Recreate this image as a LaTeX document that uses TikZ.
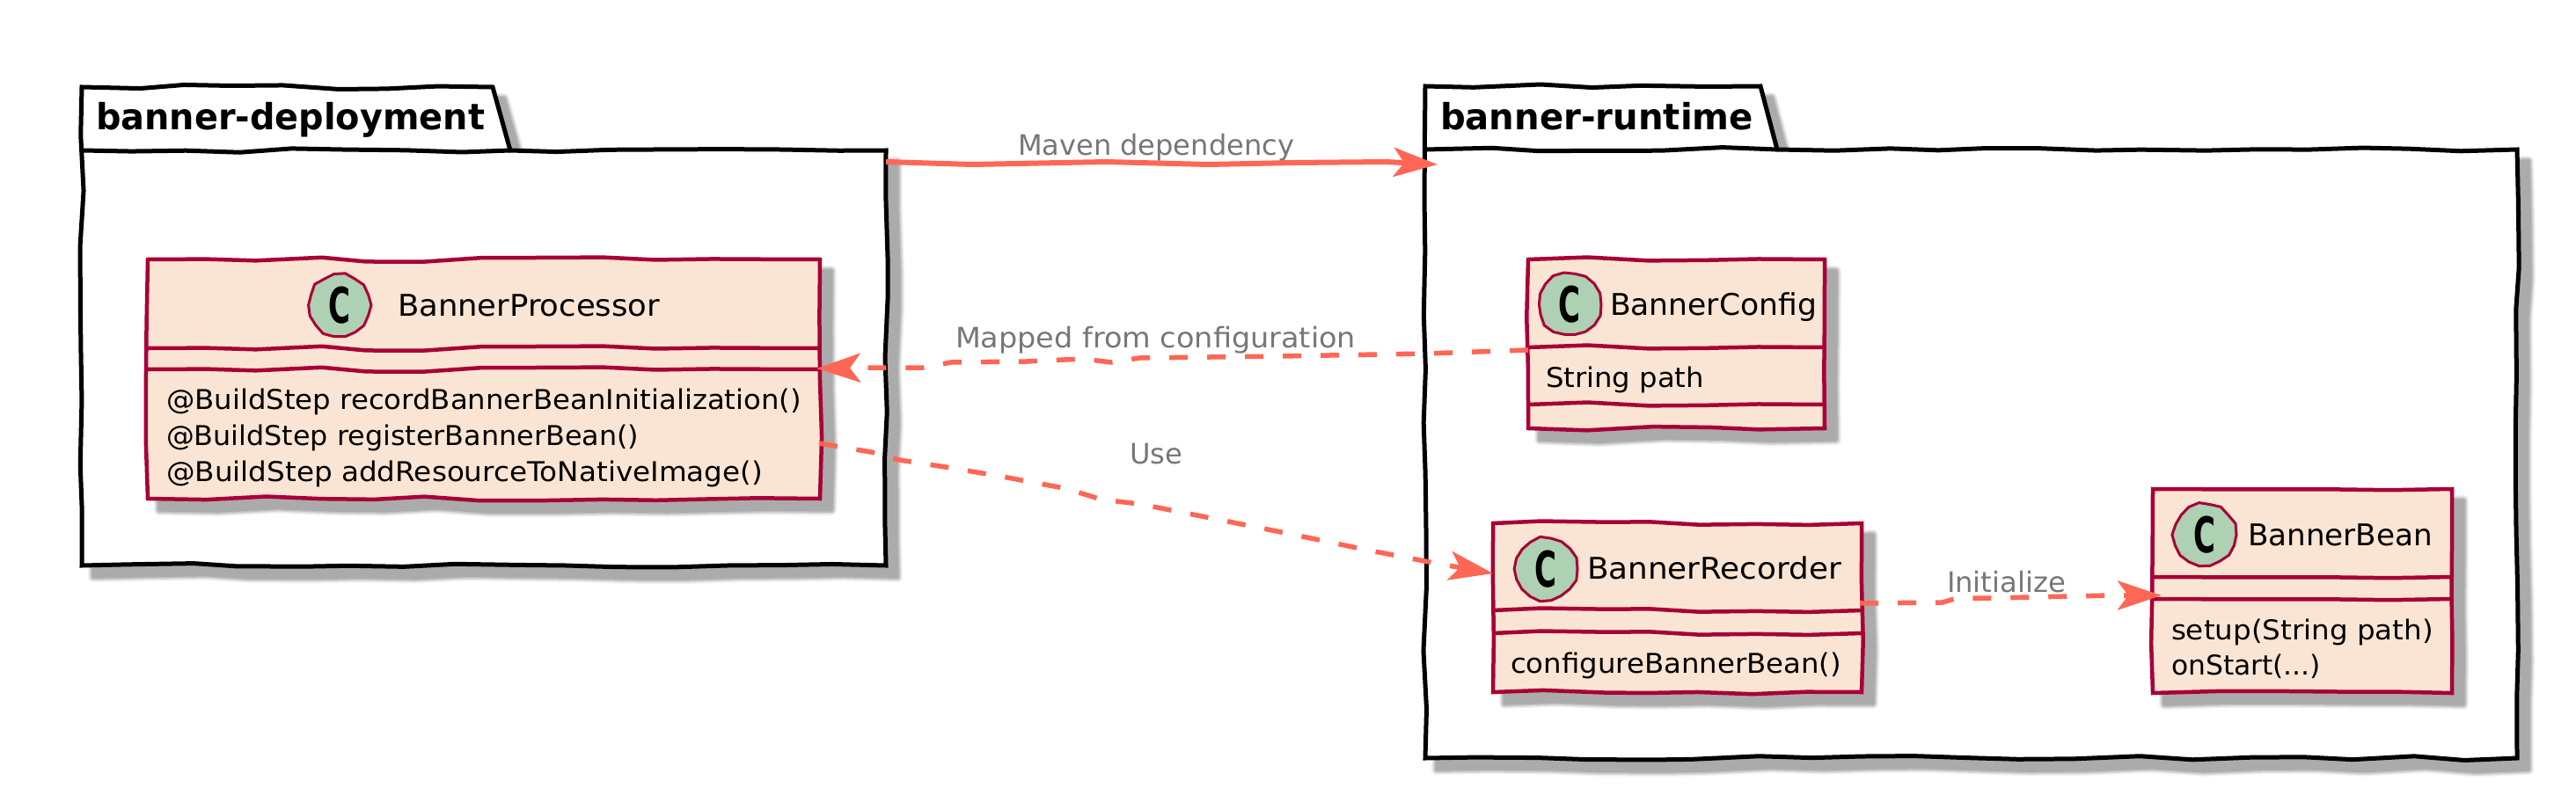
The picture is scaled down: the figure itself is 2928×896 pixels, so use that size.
\documentclass[tikz,border=0pt]{standalone}
\usepackage{fontspec}
\setmainfont{DejaVu Sans}
\usetikzlibrary{arrows.meta,calc}
\definecolor{boxfill}{HTML}{FAE5D4}
\definecolor{boxline}{HTML}{A80036}
\definecolor{spotfill}{HTML}{ADD1B2}
\definecolor{linkcol}{HTML}{FF6655}
\definecolor{labelcol}{HTML}{777777}
\tikzset{
  shadowA/.style={draw=black!6,line width=12pt,line join=round},
  shadowB/.style={draw=black!15,line width=9pt,line join=round},
  shadowC/.style={draw=black!25,line width=6pt,line join=round},
  shadowD/.style={draw=black!33,fill=black!33,line width=3pt,line join=round},
  classedge/.style={draw=boxline,line width=4.5pt,line join=miter},
  pkgedge/.style={draw=black,line width=5pt,line join=miter},
  spotedge/.style={draw=boxline,line width=3pt,fill=spotfill,line join=round},
  anchorbox/.style={inner sep=0pt,outer sep=0pt,draw=none,fill=none},
  txt/.style={inner sep=0pt,outer sep=0pt,anchor=base west},
  link/.style={draw=linkcol,line width=6pt,line join=round,
    -{Stealth[length=50pt,width=33pt,inset=12pt]}},
  dashlink/.style={link,line width=5.5pt,dash pattern=on 21pt off 22pt},
}
\newcommand\wobadd[5]{% target macro name, x1,y1,x2,y2
  \pgfmathsetmacro\wobN{int(max(2,round((abs(#4-#2)+abs(#5-#3))/62)))}%
  \foreach \wi in {1,...,\wobN}{%
    \ifnum\wi<\wobN\relax
      \pgfmathsetmacro\wx{#2+(#4-#2)/\wobN*\wi+(abs(#4-#2)>1?9:2.2)*rand}%
      \pgfmathsetmacro\wy{#3+(#5-#3)/\wobN*\wi+(abs(#4-#2)>1?2.6:9)*rand}%
      \xdef#1{#1 -- (\wx,\wy)}%
    \else
      \xdef#1{#1 -- (#4,#5)}%
    \fi}}
\newcommand\shadowof[1]{%
  \begin{scope}[shift={(13,13)}]
    \path[shadowA] #1 -- cycle;
    \path[shadowB] #1 -- cycle;
    \path[shadowC] #1 -- cycle;
    \path[shadowD] #1 -- cycle;
  \end{scope}}
% name, x1, y1, x2, y2, sep1, sep2, spot x, spot y
\newcommand\classbox[9]{%
  \gdef\wobtop{}\gdef\wobrest{}%
  \wobadd{\wobtop}{#2}{#3}{#4}{#3}%
  \wobadd{\wobrest}{#4}{#3}{#4}{#5}%
  \wobadd{\wobrest}{#4}{#5}{#2}{#5}%
  \wobadd{\wobrest}{#2}{#5}{#2}{#3}%
  \shadowof{(#2,#3) \wobtop \wobrest}
  \path[classedge,fill=boxfill] (#2,#3) \wobtop \wobrest -- cycle;
  \begin{scope}[shift={(0,#6-#3)}]\path[classedge] (#2,#3) \wobtop;\end{scope}
  \begin{scope}[shift={(0,#7-#3)}]\path[classedge] (#2,#3) \wobtop;\end{scope}
  \path node[anchorbox,minimum width={(#4-#2)*1pt},minimum height={(#5-#3)*1pt}] (#1) at ({(#2+#4)/2},{(#3+#5)/2}) {};
  \gdef\wobcirc{}%
  \foreach \wa in {20,40,...,340}{%
    \pgfmathsetmacro\wr{36+1.5*rand}%
    \pgfmathsetmacro\wx{#8+\wr*cos(\wa)}%
    \pgfmathsetmacro\wy{#9+\wr*sin(\wa)}%
    \xdef\wobcirc{\wobcirc -- (\wx,\wy)}}
  \path[spotedge] ({#8+36},#9) \wobcirc -- cycle;
  \node[anchorbox] (#1-spot) at (#8,#9) {\resizebox{25pt}{\height}{\fontsize{56}{60}\selectfont\bfseries C}};
}
% name, x1, ytop, tab right top, tab right bottom, ybody, x2, y2
\newcommand\pkgbox[8]{%
  \gdef\wobout{}\gdef\wobsep{}%
  \wobadd{\wobout}{#2}{#3}{#4}{#3}%
  \xdef\wobout{\wobout -- (#5,#6)}%
  \wobadd{\wobout}{#5}{#6}{#7}{#6}%
  \wobadd{\wobout}{#7}{#6}{#7}{#8}%
  \wobadd{\wobout}{#7}{#8}{#2}{#8}%
  \wobadd{\wobout}{#2}{#8}{#2}{#3}%
  \wobadd{\wobsep}{#2}{#6}{#5}{#6}%
  \shadowof{(#2,#3) \wobout}
  \path[pkgedge,fill=white] (#2,#3) \wobout -- cycle;
  \path[pkgedge] (#2,#6) \wobsep;
  \path node[anchorbox,minimum width={(#7-#2)*1pt},minimum height={(#8-#6)*1pt}] (#1) at ({(#2+#7)/2},{(#6+#8)/2}) {};
}
% name, x, baseline, width, size, text
\newcommand\tx[6]{\node[txt] (#1) at (#2,#3) {\resizebox{#4pt}{\height}{\fontsize{#5}{#5}\selectfont #6}};}
\begin{document}
\begin{tikzpicture}[x=1pt,y=-1pt]
\useasboundingbox (0,0) rectangle (2928,896);
\path[fill=white] (0,0) rectangle (2928,896);
\pgfmathsetseed{4217}
\pkgbox{pkgA}{93}{99}{560}{580}{171}{1007}{643}
\pkgbox{pkgB}{1620}{98}{2001}{2020}{170}{2861}{862}
\classbox{bp}{168}{295}{932}{567}{396}{420}{386}{347}
\classbox{bc}{1737}{295}{2074}{487}{395}{460}{1784}{346}
\classbox{br}{1697}{595}{2116}{787}{694}{720}{1757}{647}
\classbox{bb}{2447}{556}{2787}{788}{656}{681}{2506}{608}

\tx{tpkgA}{109}{148}{442}{41}{\bfseries banner-deployment}
\tx{tpkgB}{1637}{148}{356}{41}{\bfseries banner-runtime}
\tx{tbp}{452}{359}{298}{34}{BannerProcessor}
\tx{tbc}{1830}{358}{235}{34}{BannerConfig}
\tx{tbr}{1804}{658}{289}{34}{BannerRecorder}
\tx{tbb}{2555}{620}{210}{34}{BannerBean}
\tx{mbp1}{189}{465}{722}{31}{@BuildStep recordBannerBeanInitialization()}
\tx{mbp2}{189}{506}{537}{31}{@BuildStep registerBannerBean()}
\tx{mbp3}{189}{547}{678}{31}{@BuildStep addResourceToNativeImage()}
\tx{mbc}{1757}{440}{180}{31}{String path}
\tx{mbr}{1717}{765}{376}{31}{configureBannerBean()}
\tx{mbb1}{2468}{727}{298}{31}{setup(String path)}
\tx{mbb2}{2468}{767}{170}{31}{onStart(...)}

\draw[link] ([yshift=223pt]pkgA.east) -- (1105,187) -- (1257,184) -- (1373,187) -- (1471,185) -- (1575,184) -- ([xshift=14pt,yshift=329pt]pkgB.west);
\draw[dashlink] ([yshift=-7pt]bc.west) -- (1707,399) -- (1622,402) -- (1456,405) -- (1295,407) -- (1263,412) -- (1231,408) -- (1166,411) -- (1081,412) -- (1049,418) -- (992,418) -- ([xshift=-4pt,yshift=12pt]bp.east);
\draw[dashlink] ([xshift=-1pt,yshift=-73pt]bp.east) -- (990,514) -- (1022,523) -- (1081,532) -- (1145,543) -- (1209,555) -- (1236,563) -- (1252,568) -- (1295,573) -- (1381,590) -- (1466,607) -- (1552,625) -- (1635,641) -- ([yshift=39pt]br.west);
\draw[dashlink] ([xshift=-2pt,yshift=5pt]br.east) -- (2208,685) -- (2224,680) -- (2269,680) -- (2307,679) -- (2355,678) -- (2398,677) -- ([xshift=10pt,yshift=-5pt]bb.west);

\tx{lmaven}{1157}{177}{314}{32}{\color{labelcol}Maven dependency}
\tx{lmapped}{1086}{395}{455}{32}{\color{labelcol}Mapped from configuration}
\tx{luse}{1284}{527}{60}{32}{\color{labelcol}Use}
\tx{linit}{2213}{673}{135}{32}{\color{labelcol}Initialize}
\end{tikzpicture}
\end{document}
